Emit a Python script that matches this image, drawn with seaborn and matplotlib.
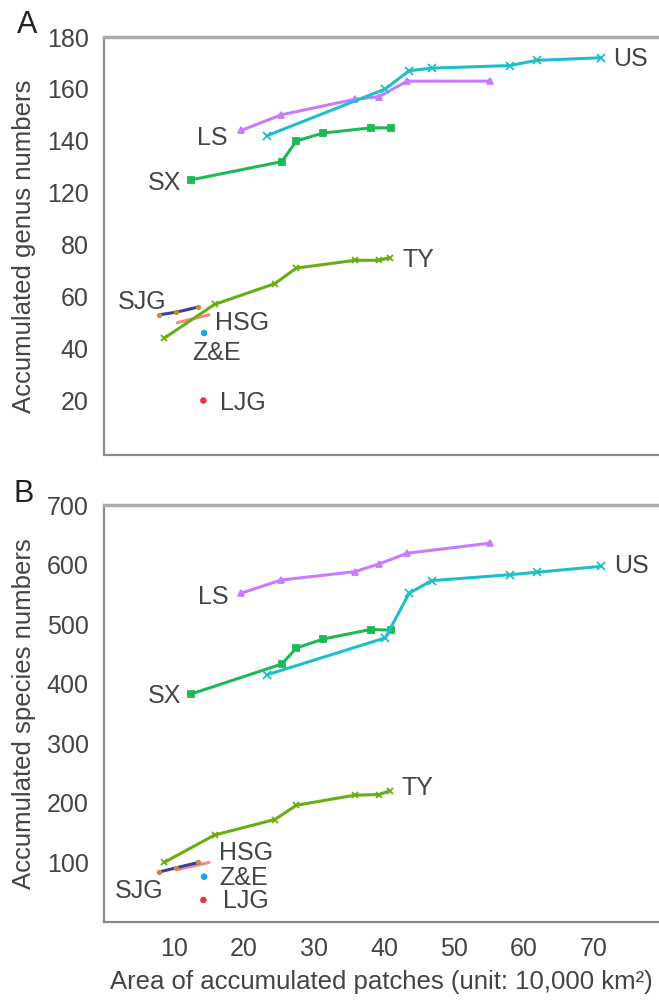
import seaborn as sns
import matplotlib.pyplot as plt
import pandas as pd
import numpy as np

# Area of accumulated patches (x, unit 10,000 km2), shared by both panels
area_ls = [19.6, 25.3, 35.8, 39.3, 43.3, 55.2]
area_us = [23.3, 40.2, 43.6, 46.8, 58.0, 61.8, 71.0]
area_sx = [12.5, 25.4, 27.5, 31.3, 38.1, 41.0]
area_ty = [8.6, 15.8, 24.4, 27.5, 35.9, 39.3, 40.8]
area_sjg = [7.9, 10.3, 13.5]
area_hsg = [10.5, 15.0]
area_ze = [14.3]
area_ljg = [14.2]

# Panel A: accumulated genus numbers
genus_ls = [144, 150, 156, 157, 163, 163]
genus_us = [142, 160, 167, 168, 169, 171, 172]
genus_sx = [125, 132, 140, 143, 145, 145]
genus_ty = [44, 57, 65, 71, 74, 74, 75]
genus_sjg = [53, 54, 56]
genus_hsg = [50, 53]
genus_ze = [46]
genus_ljg = [20]

# Panel B: accumulated species numbers
species_ls = [552, 574, 588, 601, 619, 636]
species_us = [415, 477, 552, 573, 583, 587, 597]
species_sx = [383, 433, 460, 475, 491, 490]
species_ty = [100, 146, 172, 196, 213, 214, 220]
species_sjg = [84, 91, 100]
species_hsg = [88, 100]
species_ze = [76]
species_ljg = [37]

genus_ticks = [180, 160, 140, 120, 80, 60, 40, 20]
species_ticks = [100, 200, 300, 400, 500, 600, 700]
x_ticks = [10, 20, 30, 40, 50, 60, 70]

# label anchors (x, y) for each region
labels_a = {"US": (72.7, 171.5), "LS": (17.6, 141), "SX": (11.1, 123.7),
            "TY": (42.6, 74), "SJG": (2.0, 57.8), "HSG": (15.9, 49.7),
            "Z&E": (12.6, 38.2), "LJG": (16.6, 19.1)}
labels_b = {"US": (72.9, 597), "LS": (17.8, 546), "SX": (11.1, 379),
            "TY": (42.5, 225), "SJG": (1.6, 52), "HSG": (16.5, 116),
            "Z&E": (16.5, 74), "LJG": (17.0, 35)}
right_aligned = ["LS", "SX"]

styles = {
    "LS": dict(color="#c77cff", marker="^", ms=5),
    "US": dict(color="#1fbfca", marker="x", ms=6),
    "SX": dict(color="#1db954", marker="s", ms=4),
    "TY": dict(color="#6aad12", marker="x", ms=5),
    "SJG": dict(color="#3b3f99", marker="o", ms=2.5, mfc="#c98a3c", mec="#c98a3c"),
    "HSG": dict(color="#f8877d", marker=None, ms=0),
}

text_color = "#444444"
spine_color = "#8a8a8a"

sns.set_style("white")
plt.rcParams["font.family"] = ["Liberation Sans", "DejaVu Sans"]


def genus_axis(v):
    # the genus axis is broken: the 80-120 stretch is shortened (100 omitted)
    v = np.asarray(v, dtype=float)
    return np.where(v >= 100, v - 20, v)


def draw_panel(ax, area, values, labels, transform):
    for name in ["HSG", "SJG", "TY", "SX", "LS", "US"]:
        st = styles[name]
        df = pd.DataFrame({"area": area[name], "n": transform(values[name])})
        sns.lineplot(data=df, x="area", y="n", ax=ax, color=st["color"],
                     lw=2.2, sort=False, estimator=None,
                     marker=st["marker"], markersize=st["ms"],
                     markerfacecolor=st.get("mfc", st["color"]),
                     markeredgecolor=st.get("mec", st["color"]),
                     markeredgewidth=1.3)
    for name, col in [("Z&E", "#10a8f0"), ("LJG", "#f0303c")]:
        df = pd.DataFrame({"area": area[name], "n": transform(values[name])})
        sns.scatterplot(data=df, x="area", y="n", ax=ax, color=col, s=22,
                        edgecolor="none")
    for name, (x, y) in labels.items():
        ax.text(x, float(transform([y])[0]), name, fontsize=18, color=text_color,
                ha="right" if name in right_aligned else "left", va="center")

    ax.set_xlim(0, 79.3)
    ax.set_xticks(x_ticks)
    for side in ["left", "bottom"]:
        ax.spines[side].set_color(spine_color)
        ax.spines[side].set_linewidth(1.6)
    ax.spines["top"].set_color("#ababab")
    ax.spines["top"].set_linewidth(2.5)
    ax.spines["right"].set_visible(False)
    ax.tick_params(direction="out", length=7, width=1.4, color=spine_color,
                   labelsize=18, labelcolor=text_color, pad=4)
    ax.set_xlabel("")
    ax.set_ylabel("")


fig = plt.figure(figsize=(6.59, 10.05), dpi=100)
ax_a = fig.add_axes([104 / 659, 1 - 455 / 1005, 555 / 659, 418 / 1005])
ax_b = fig.add_axes([104 / 659, 1 - 922 / 1005, 555 / 659, 417 / 1005])

areas = {"LS": area_ls, "US": area_us, "SX": area_sx, "TY": area_ty,
         "SJG": area_sjg, "HSG": area_hsg, "Z&E": area_ze, "LJG": area_ljg}
genus = {"LS": genus_ls, "US": genus_us, "SX": genus_sx, "TY": genus_ty,
         "SJG": genus_sjg, "HSG": genus_hsg, "Z&E": genus_ze, "LJG": genus_ljg}
species = {"LS": species_ls, "US": species_us, "SX": species_sx, "TY": species_ty,
           "SJG": species_sjg, "HSG": species_hsg, "Z&E": species_ze, "LJG": species_ljg}

draw_panel(ax_a, areas, genus, labels_a, genus_axis)
ax_a.set_ylim(-1, 160)
ax_a.set_yticks(genus_axis(genus_ticks))
ax_a.set_yticklabels([str(t) for t in genus_ticks])
ax_a.set_xticklabels([])
ax_a.set_ylabel("Accumulated genus numbers", fontsize=18.5, color=text_color, labelpad=8)

draw_panel(ax_b, areas, species, labels_b, lambda v: np.asarray(v, dtype=float))
ax_b.set_ylim(0, 700)
ax_b.set_yticks(species_ticks)
ax_b.set_ylabel("Accumulated species numbers", fontsize=18.5, color=text_color, labelpad=8)
ax_b.set_xlabel("Area of accumulated patches (unit: 10,000 km\u00b2)", fontsize=18.5,
                color=text_color, labelpad=6)

fig.text(17 / 659, 1 - 33 / 1005, "A", fontsize=22, color="#222222", ha="left", va="baseline")
fig.text(13 / 659, 1 - 502 / 1005, "B", fontsize=22, color="#222222", ha="left", va="baseline")

plt.savefig("out.png", dpi=100)
plt.close("all")
